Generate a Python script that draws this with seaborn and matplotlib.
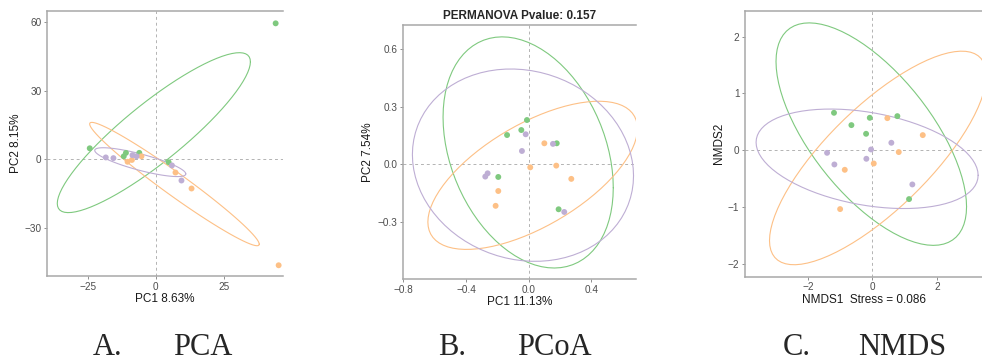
import numpy as np
import pandas as pd
import matplotlib
matplotlib.use("Agg")
import matplotlib.pyplot as plt
import seaborn as sns

# ---------------- data ----------------
group_names = ["G1", "G2", "G3"]          # green, orange, purple
group_colors = ["#7FC97F", "#FDC086", "#BEAED4"]

# PCA
pca_g1_x = [44.0, -24.3, -11.0, -11.8, -6.1, 4.7]
pca_g1_y = [59.6, 4.9, 2.9, 1.4, 2.9, -1.2]
pca_g2_x = [45.1, 13.1, 7.2, -5.3, -8.8, -10.4]
pca_g2_y = [-46.3, -12.7, -5.7, 1.4, -0.2, -1.0]
pca_g3_x = [-18.4, -15.6, -8.6, -7.1, 5.9, 9.4]
pca_g3_y = [0.9, 0.6, 1.9, 1.4, -2.6, -9.2]

# PCoA
pcoa_g1_x = [-0.011, -0.047, -0.138, 0.179, -0.194, 0.191]
pcoa_g1_y = [0.230, 0.178, 0.152, 0.109, -0.066, -0.234]
pcoa_g2_x = [0.100, 0.176, 0.010, 0.272, -0.194, -0.211]
pcoa_g2_y = [0.109, -0.007, -0.016, -0.076, -0.139, -0.216]
pcoa_g3_x = [-0.019, -0.043, 0.155, -0.262, -0.277, 0.227]
pcoa_g3_y = [0.156, 0.069, 0.106, -0.047, -0.064, -0.248]

# NMDS
nmds_g1_x = [-1.19, -0.65, -0.08, 0.775, -0.195, 1.138]
nmds_g1_y = [0.657, 0.44, 0.569, 0.598, 0.287, -0.863]
nmds_g2_x = [0.465, 1.563, 0.818, 0.043, -0.856, -1.0]
nmds_g2_y = [0.563, 0.264, -0.035, -0.236, -0.347, -1.039]
nmds_g3_x = [-1.405, -1.178, -0.186, -0.04, 0.589, 1.24]
nmds_g3_y = [-0.048, -0.253, -0.153, 0.011, 0.129, -0.605]

pca_xlabel, pca_ylabel = "PC1 8.63%", "PC2 8.15%"
pcoa_xlabel, pcoa_ylabel = "PC1 11.13%", "PC2 7.54%"
nmds_xlabel, nmds_ylabel = "NMDS1  Stress = 0.086", "NMDS2"
pcoa_title = "PERMANOVA Pvalue: 0.157"
panel_letters = ["A.", "B.", "C."]
panel_names = ["PCA", "PCoA", "NMDS"]
ellipse_levels = [0.60, 0.95, 0.95]


def make_df(xs, ys):
    rows = []
    for g, x, y in zip(group_names, xs, ys):
        for a, b in zip(x, y):
            rows.append((g, a, b))
    return pd.DataFrame(rows, columns=["group", "x", "y"])


def ellipse_pts(x, y, level=0.95, segments=80):
    data = np.column_stack([x, y])
    center = data.mean(axis=0)
    shape = np.cov(data.T)
    n = len(x)
    dfd = n - 1
    fq = (dfd / 2.0) * ((1 - level) ** (-2.0 / dfd) - 1)   # qf(level, 2, dfd)
    radius = np.sqrt(2 * fq)
    chol = np.linalg.cholesky(shape).T
    ang = np.linspace(0, 2 * np.pi, segments + 1)
    uc = np.column_stack([np.cos(ang), np.sin(ang)])
    return center + radius * (uc @ chol)


sns.set_theme(style="white")
plt.rcParams["font.family"] = ["Liberation Sans", "DejaVu Sans"]

fig = plt.figure(figsize=(9.82, 3.62), dpi=100)
W, H = 982.0, 362.0


def add_axes(l, r, t, b):
    return fig.add_axes([l / W, 1 - b / H, (r - l) / W, (b - t) / H])


axA = add_axes(47, 283, 11, 276)
axB = add_axes(402.7, 635.7, 25, 279.3)
axC = add_axes(745, 982, 11, 276.7)

panels = [
    (axA, make_df([pca_g1_x, pca_g2_x, pca_g3_x], [pca_g1_y, pca_g2_y, pca_g3_y]),
     (-40, 46.7), (-51, 65), [-25, 0, 25], [-30, 0, 30, 60], pca_xlabel, pca_ylabel, None, "{:g}"),
    (axB, make_df([pcoa_g1_x, pcoa_g2_x, pcoa_g3_x], [pcoa_g1_y, pcoa_g2_y, pcoa_g3_y]),
     (-0.804, 0.683), (-0.598, 0.724), [-0.8, -0.4, 0, 0.4], [-0.3, 0, 0.3, 0.6], pcoa_xlabel, pcoa_ylabel,
     pcoa_title, "{:.1f}"),
    (axC, make_df([nmds_g1_x, nmds_g2_x, nmds_g3_x], [nmds_g1_y, nmds_g2_y, nmds_g3_y]),
     (-3.95, 3.40), (-2.23, 2.45), [-2, 0, 2], [-2, -1, 0, 1, 2], nmds_xlabel, nmds_ylabel, None, "{:g}"),
]

pal = dict(zip(group_names, group_colors))
for (ax, df, xl, yl, xt, yt, xlab, ylab, title, fmt), lev in zip(panels, ellipse_levels):
    ax.axhline(0, color="#B3B3B3", lw=0.7, ls=(0, (3, 3)), zorder=0)
    ax.axvline(0, color="#B3B3B3", lw=0.7, ls=(0, (3, 3)), zorder=0)
    for g in group_names:
        sub = df[df.group == g]
        e = ellipse_pts(sub.x.values, sub.y.values, level=lev)
        ax.plot(e[:, 0], e[:, 1], color=pal[g], lw=0.8, zorder=1)
    sns.scatterplot(data=df, x="x", y="y", hue="group", palette=pal, s=18,
                    linewidth=0, legend=False, ax=ax, zorder=2)
    ax.set_xlim(*xl)
    ax.set_ylim(*yl)
    ax.set_xticks(xt)
    ax.set_yticks(yt)
    ax.set_xticklabels([fmt.format(v).replace("-", "\u2212") for v in xt])
    ax.set_yticklabels([fmt.format(v).replace("-", "\u2212") for v in yt])
    ax.tick_params(axis="both", which="both", length=2.5, width=0.6, color="#7F7F7F",
                   labelsize=7.2, labelcolor="#4D4D4D", pad=1.5, bottom=True, left=True)
    ax.set_xlabel(xlab, fontsize=8.5, color="#1A1A1A", labelpad=1)
    ax.set_ylabel(ylab, fontsize=8.5, color="#1A1A1A", labelpad=2)
    for side in ["left", "bottom", "top"]:
        ax.spines[side].set_visible(True)
        ax.spines[side].set_color("#A8A8A8")
        ax.spines[side].set_linewidth(1.1)
    ax.spines["right"].set_visible(False)
    if title:
        ax.set_title(title, fontsize=8.5, fontweight="bold", pad=4)

letter_x = [93, 438, 783]
name_x = [173, 517, 858]
for lx, nx, lt, nm in zip(letter_x, name_x, panel_letters, panel_names):
    fig.text(lx / W, 1 - 355 / H, lt, family="Liberation Serif", fontsize=22, va="baseline", ha="left")
    fig.text(nx / W, 1 - 355 / H, nm, family="Liberation Serif", fontsize=22, va="baseline", ha="left")

fig.savefig("out.png", dpi=100)
